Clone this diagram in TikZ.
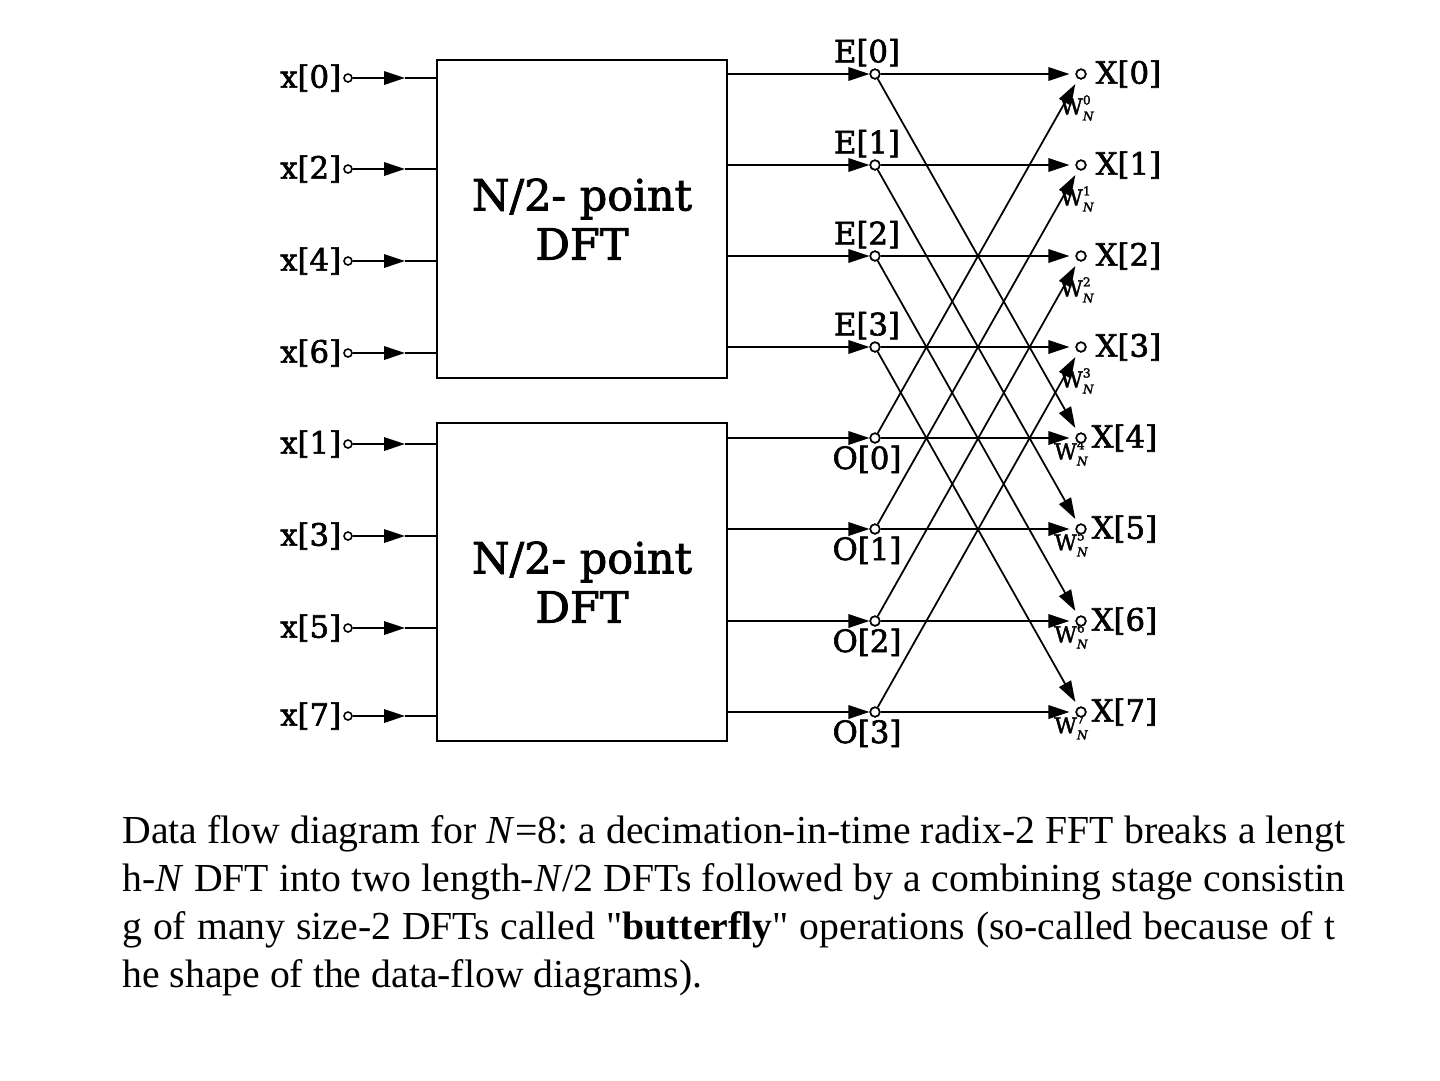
\documentclass[tikz,border=0pt]{standalone}
\usepackage{fontspec}
\setmainfont{Liberation Serif}[Ligatures=TeXOff]
\newfontfamily\diafont{DejaVu Serif}[FakeBold=2]
\usetikzlibrary{arrows.meta}
\newcommand{\wlab}[1]{W\makebox[0pt][l]{\raisebox{0.45em}{\fontsize{7}{7}\selectfont #1}}\raisebox{-0.28em}{\fontsize{7}{7}\selectfont\itshape N}\hspace{0.45em}}
\frenchspacing
\tikzset{
  dot/.style={circle,draw,fill=white,line width=0.9pt,minimum size=0.19cm,inner sep=0pt},
  wire/.style={line width=1pt},
  arr/.style={wire,-{Triangle[length=0.42cm,width=0.27cm]}},
  arrs/.style={arr,shorten >=0.12cm},
  dftbox/.style={draw,line width=1.1pt,minimum width=5.8cm,minimum height=6.36cm,inner sep=0pt,align=center,font=\diafont\fontsize{24.5}{28}\selectfont},
  lab/.style={font=\diafont\fontsize{17.5}{18}\selectfont,inner sep=1pt},
  wl/.style={font=\diafont\fontsize{12.5}{12.5}\selectfont,inner sep=0pt},
  captext/.style={anchor=base west,inner sep=0pt,font=\fontsize{22.6}{27}\selectfont}
}
\begin{document}
\begin{tikzpicture}[x=0.02cm,y=-0.02cm]
\useasboundingbox (0,0) rectangle (1440,1080);
% boxes
\node[dftbox] (dA) at (582,219) {N/2- point\\DFT};
\node[dftbox] (dB) at (582,582) {N/2- point\\DFT};
% inputs
\foreach \lbl/\y/\i in {0/78/0,2/169/1,4/261/2,6/353/3,1/444/4,3/536/5,5/628/6,7/716/7}{
  \node[dot,minimum size=0.16cm] (in\i) at (348,\y) {};
  \node[lab,anchor=east] (inl\i) at (in\i.west) {x[\lbl]};
  \coordinate (ia\i) at (405,\y);
  \coordinate (ib\i) at (437,\y);
  \draw[arr] (in\i) -- (ia\i);
  \draw[wire] (ia\i) -- (ib\i);
}
% middle nodes
\foreach \k/\y in {0/74,1/165,2/256,3/347}{
  \node[dot] (E\k) at (875,\y) {};
  \node[lab,anchor=south] (El\k) at ([xshift=-0.16cm]E\k.north) {E[\k]};
  \draw[arr] (dA.east |- E\k) -- (E\k);
}
\foreach \k/\y in {0/438,1/529,2/621,3/712}{
  \node[dot] (O\k) at (875,\y) {};
  \node[lab,anchor=north] (Ol\k) at ([xshift=-0.16cm]O\k.south) {O[\k]};
  \draw[arr] (dB.east |- O\k) -- (O\k);
}
% outputs
\foreach \k/\y in {0/74,1/165,2/256,3/347,4/438,5/529,6/621,7/712}{
  \node[dot] (X\k) at (1081,\y) {};
}
\foreach \k in {0,1,2,3}{
  \node[lab,anchor=west] (Xl\k) at ([xshift=0.14cm]X\k.east) {X[\k]};
  \node[wl] (W\k) at ([xshift=-0.08cm,yshift=-0.68cm]X\k) {\wlab{\k}};
}
\foreach \k in {4,5,6,7}{
  \node[lab,anchor=west] (Xl\k) at ([xshift=0.06cm]X\k.east) {X[\k]};
  \node[wl] (W\k) at ([xshift=-0.2cm,yshift=-0.3cm]X\k) {\wlab{\k}};
}
% butterflies
\foreach \k/\m in {0/4,1/5,2/6,3/7}{
  \draw[arrs] (E\k) -- (X\k);
  \draw[arrs] (E\k) -- (X\m);
  \draw[arrs] (O\k) -- (X\m);
  \draw[arrs] (O\k) -- (X\k);
}
% redraw circles on top
\foreach \k in {0,1,2,3}{
  \node[dot] at (E\k) {};
  \node[dot] at (O\k) {};
}
\foreach \k in {0,...,7}{\node[dot] at (X\k) {};}
% caption
\node[captext] (c1) at (122,843) {\makebox[24.46cm][s]{Data flow diagram for \textit{N}=8: a decimation-in-time radix-2 FFT breaks a lengt}};
\node[captext] (c2) at (122,891) {\makebox[24.46cm][s]{h-\textit{N} DFT into two length-\textit{N}/2 DFTs followed by a combining stage consistin}};
\node[captext] (c3) at (122,939) {\makebox[24.26cm][s]{g of many size-2 DFTs called "\textbf{butterfly}" operations (so-called because of t}};
\node[captext] (c4) at (122,987) {he shape of the data-flow diagrams).};
\end{tikzpicture}
\end{document}
